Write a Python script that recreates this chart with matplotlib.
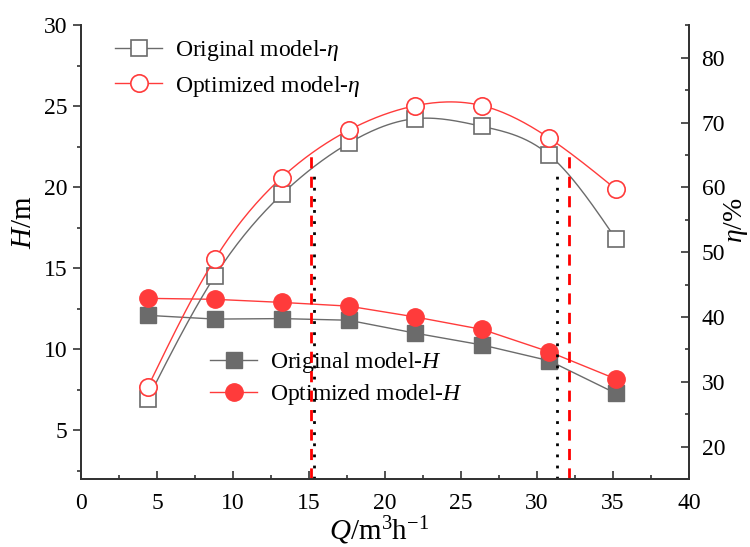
import numpy as np
import matplotlib
matplotlib.use("Agg")
import matplotlib.pyplot as plt
from matplotlib.ticker import MultipleLocator

plt.rcParams['font.family'] = ['Liberation Serif', 'DejaVu Serif']
plt.rcParams['mathtext.fontset'] = 'custom'
plt.rcParams['mathtext.rm'] = 'Liberation Serif'
plt.rcParams['mathtext.it'] = 'Liberation Serif:italic'

# flow rate Q (m3/h)
flow = [4.4, 8.8, 13.2, 17.6, 22.0, 26.4, 30.8, 35.2]
# head H (m)
head_orig = [12.1, 11.87, 11.9, 11.8, 11.0, 10.27, 9.3, 7.28]
head_opt = [13.15, 13.09, 12.9, 12.67, 12.0, 11.23, 9.85, 8.17]
# efficiency eta (%)
eta_orig = [27.4, 46.3, 58.9, 66.8, 70.6, 69.4, 65.0, 52.0]
eta_opt = [29.2, 48.9, 61.5, 68.8, 72.6, 72.6, 67.6, 59.7]
# high efficiency range boundaries (Q, eta at boundary)
bound_orig_q = [15.3, 31.3]
bound_orig_eta = [63.0, 62.5]
bound_opt_q = [15.15, 32.1]
bound_opt_eta = [64.9, 64.9]

GRAY = '#6b6b6b'
RED = '#ff3b3b'


def spline(x, y, n=200):
    # natural cubic spline, only to draw a smooth line through the points
    x = np.asarray(x, float)
    y = np.asarray(y, float)
    k = len(x)
    h = np.diff(x)
    A = np.zeros((k, k))
    b = np.zeros(k)
    A[0, 0] = A[-1, -1] = 1
    for i in range(1, k - 1):
        A[i, i - 1] = h[i - 1]
        A[i, i] = 2 * (h[i - 1] + h[i])
        A[i, i + 1] = h[i]
        b[i] = 6 * ((y[i + 1] - y[i]) / h[i] - (y[i] - y[i - 1]) / h[i - 1])
    m = np.linalg.solve(A, b)
    xs = np.linspace(x[0], x[-1], n)
    j = np.clip(np.searchsorted(x, xs) - 1, 0, k - 2)
    t0 = x[j + 1] - xs
    t1 = xs - x[j]
    hj = h[j]
    ys = (m[j] * t0 ** 3 / (6 * hj) + m[j + 1] * t1 ** 3 / (6 * hj)
          + (y[j] / hj - m[j] * hj / 6) * t0 + (y[j + 1] / hj - m[j + 1] * hj / 6) * t1)
    return xs, ys


fig = plt.figure(figsize=(7.5, 5.47), dpi=100)
ax = fig.add_axes([0.108, 0.1243, 0.8107, 0.8294])
ax2 = ax.twinx()

# head curves (left axis)
ax.plot(flow, head_orig, color=GRAY, lw=1, marker='s', ms=11.5, mfc=GRAY, mec=GRAY,
        label='Original model-$\\mathit{H}$')
ax.plot(flow, head_opt, color=RED, lw=1, marker='o', ms=12.5, mfc=RED, mec=RED,
        label='Optimized model-$\\mathit{H}$')

# efficiency curves (right axis)
xs, ys = spline(flow, eta_orig)
ax2.plot(xs, ys, color=GRAY, lw=1)
ax2.plot(flow, eta_orig, ls='none', marker='s', ms=11.5, mfc='white', mec=GRAY, mew=1.2)
ax2.plot([], [], color=GRAY, lw=1, marker='s', ms=11.5, mfc='white', mec=GRAY, mew=1.2,
         label='Original model-$\\eta$')
xs, ys = spline(flow, eta_opt)
ax2.plot(xs, ys, color=RED, lw=1)
ax2.plot(flow, eta_opt, ls='none', marker='o', ms=12.5, mfc='white', mec=RED, mew=1.2)
ax2.plot([], [], color=RED, lw=1, marker='o', ms=12.5, mfc='white', mec=RED, mew=1.2,
         label='Optimized model-$\\eta$')

for q, e in zip(bound_opt_q, bound_opt_eta):
    ax2.plot([q, q], [15, e], color='#ff0000', lw=2, ls=(0, (4, 3)))
for q, e in zip(bound_orig_q, bound_orig_eta):
    ax2.plot([q, q], [15, e], color='black', lw=2, ls=(0, (1, 3)))

ax.set_xlim(0, 40)
ax.set_ylim(2, 30)
ax2.set_ylim(15, 85)

ax.xaxis.set_major_locator(MultipleLocator(5))
ax.xaxis.set_minor_locator(MultipleLocator(2.5))
ax.yaxis.set_major_locator(MultipleLocator(5))
ax.yaxis.set_minor_locator(MultipleLocator(2.5))
ax2.yaxis.set_major_locator(MultipleLocator(10))
ax2.yaxis.set_minor_locator(MultipleLocator(5))

for a in (ax, ax2):
    a.spines['top'].set_visible(False)
    for s in a.spines.values():
        s.set_linewidth(1.3)
        s.set_color('#333333')
ax.tick_params(axis='x', which='both', direction='in', labelsize=17, pad=10, color='#333333')
ax.tick_params(axis='x', which='major', length=6, width=1.2)
ax.tick_params(axis='x', which='minor', length=3, width=1.2)
ax.tick_params(axis='y', which='both', direction='out', labelsize=17, pad=4, color='#333333')
ax.tick_params(axis='y', which='major', length=6, width=1.2)
ax.tick_params(axis='y', which='minor', length=3, width=1.2)
ax2.tick_params(axis='y', which='both', direction='in', labelsize=17, pad=9, color='#333333')
ax2.tick_params(axis='y', which='major', length=6, width=1.2)
ax2.tick_params(axis='y', which='minor', length=3, width=1.2)

ax.set_xlabel('$\\mathit{Q}$/m$^{3}$h$^{-1}$', fontsize=21)
ax.xaxis.set_label_coords(0.49, -0.078)
ax.set_ylabel('$\\mathit{H}$/m', fontsize=21)
ax.yaxis.set_label_coords(-0.072, 0.565)
ax2.set_ylabel('$\\eta$/%', fontsize=20)
ax2.yaxis.set_label_coords(1.055, 0.57)

leg2 = ax2.legend(loc='center left', bbox_to_anchor=(0.056, 0.905), frameon=False,
                  fontsize=17, handlelength=2.0, handletextpad=0.55, borderpad=0,
                  borderaxespad=0, labelspacing=0.45)
leg1 = ax.legend(loc='center left', bbox_to_anchor=(0.212, 0.2215), frameon=False,
                 fontsize=17, handlelength=2.0, handletextpad=0.55, borderpad=0,
                 borderaxespad=0, labelspacing=0.3)

fig.savefig('out.png', dpi=100)
